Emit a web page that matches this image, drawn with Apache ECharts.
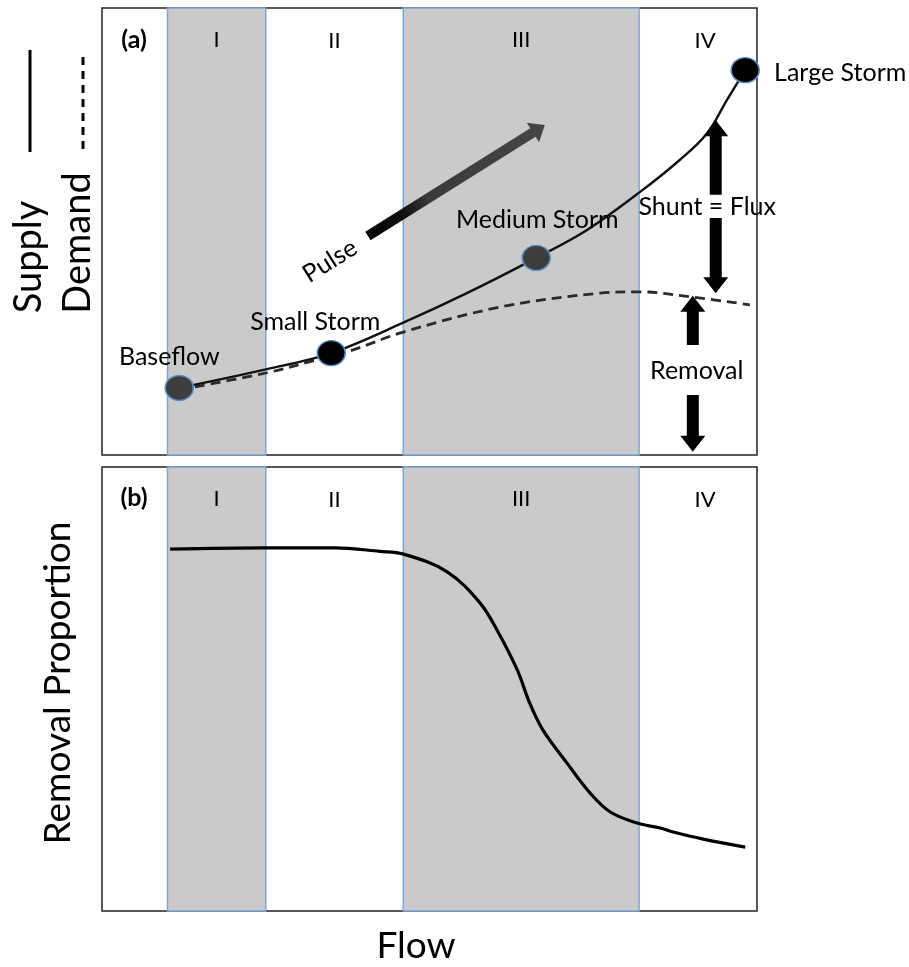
<!DOCTYPE html>
<html><head><meta charset="utf-8">
<script src="https://cdn.jsdelivr.net/npm/echarts@6/dist/echarts.min.js"></script>
<style>html,body{margin:0;padding:0;background:#fff}#c{width:909px;height:967px}</style>
</head><body><div id="c"></div>
<script>
// ---------- data ----------
const stormNames = ['Baseflow', 'Small Storm', 'Medium Storm', 'Large Storm'];
const stormFlow = [11.8, 35.0, 66.3, 98.2];
const stormSupply = [15.0, 22.8, 44.1, 86.1];

const supplyFlow = [11.8, 25.2, 35.0, 46.0, 55.7, 66.3, 74.0, 82.1, 88.2, 92.4, 95.4, 98.2];
const supplyValue = [15.0, 19.2, 22.8, 29.6, 36.2, 44.1, 50.3, 58.8, 66.0, 72.0, 79.4, 86.1];

const demandFlow = [11.8, 25.2, 32.8, 37.9, 46.0, 60.8, 76.0, 82.1, 90.2, 98.9];
const demandValue = [14.6, 18.4, 21.3, 23.3, 27.5, 33.1, 36.2, 36.5, 35.3, 33.6];

const removalFlow = [10.4, 24.9, 35.6, 42.4, 46.0, 52.7, 57.7, 60.3, 63.4, 65.3, 67.3, 71.0, 74.5, 77.6, 81.7, 85.2, 87.2, 91.8, 98.2];
const removalValue = [81.5, 81.8, 81.8, 81.0, 80.4, 76.4, 69.4, 63.3, 54.3, 46.8, 40.8, 33.3, 26.6, 22.3, 19.8, 18.7, 17.8, 16.2, 14.4];

const zoneNames = ['I', 'II', 'III', 'IV'];
const zoneEdges = [10, 25, 46, 82, 100];
const zoneShaded = [true, false, true, false];

const arrowFrom = [[40.6, 49.0], [93.7, 58.2], [93.7, 53.0], [90.2, 24.6], [90.2, 13.4]];
const arrowTo   = [[67.6, 73.8], [93.7, 74.9], [93.7, 36.2], [90.2, 35.6], [90.2, 0.7]];

const noteTexts = ['Pulse', 'Shunt = Flux', 'Removal'];
const noteFlow = [34.8, 92.4, 90.8];
const noteValue = [43.4, 55.5, 18.8];

// ---------- styles ----------
const FONT = 'Lato';
const shade = '#cbcacb';
const bandBorder = '#7ba7d4';
const stormColors = ['#3d3d3d', '#000000', '#3d3d3d', '#000000'];
const stormLabelOffset = [[-10, -31], [-16, -31], [1, -38], [95, 3]];
const zoneLabelOffset = [[0, 0], [0, 0], [0, 0], [7, 0]];
const noteRotate = [32, 0, 0];
const arrowLook = [
  {sw: 10, hw: 23, hl: 14, fill: {type: 'linear', x: 0, y: 1, x2: 1, y2: 0,
    colorStops: [{offset: 0, color: '#000'}, {offset: 0.22, color: '#111'}, {offset: 0.35, color: '#3a3a3a'}, {offset: 1, color: '#454545'}]}},
  {sw: 12, hw: 25, hl: 16, fill: '#000'},
  {sw: 12, hw: 25, hl: 16, fill: '#000'},
  {sw: 12, hw: 25, hl: 16, fill: '#000'},
  {sw: 12, hw: 25, hl: 16, fill: '#000'}
];

const zip = (a, b) => a.map((v, i) => [v, b[i]]);

function zoneArea() {
  return {
    silent: true,
    z: 0,
    data: zoneNames.map((n, i) => [
      {name: n, xAxis: zoneEdges[i],
       label: {offset: zoneLabelOffset[i]},
       itemStyle: zoneShaded[i] ? {color: shade, borderColor: bandBorder, borderWidth: 1.5}
                                : {color: 'rgba(0,0,0,0)', borderWidth: 0}},
      {xAxis: zoneEdges[i + 1]}
    ]),
    label: {show: true, position: 'insideTop', distance: 22, fontSize: 22, color: '#000', fontFamily: FONT}
  };
}

function arrowPoly(p1, p2, sw, hw, hl) {
  const dx = p2[0] - p1[0], dy = p2[1] - p1[1];
  const L = Math.hypot(dx, dy), ux = dx / L, uy = dy / L, nx = -uy, ny = ux;
  const bx = p2[0] - ux * hl, by = p2[1] - uy * hl;
  return [
    [p1[0] + nx * sw / 2, p1[1] + ny * sw / 2],
    [bx + nx * sw / 2, by + ny * sw / 2],
    [bx + nx * hw / 2, by + ny * hw / 2],
    [p2[0], p2[1]],
    [bx - nx * hw / 2, by - ny * hw / 2],
    [bx - nx * sw / 2, by - ny * sw / 2],
    [p1[0] - nx * sw / 2, p1[1] - ny * sw / 2]
  ];
}

const hiddenX = (i) => ({type: 'value', gridIndex: i, min: 0, max: 100, show: false});
const hiddenY = (i) => ({type: 'value', gridIndex: i, min: 0, max: 100, show: false});

const chart = echarts.init(document.getElementById('c'), null, {renderer: 'canvas'});
chart.setOption({
  animation: false,
  backgroundColor: '#fff',
  textStyle: {fontFamily: FONT},
  grid: [
    {left: 102, top: 8, width: 655, height: 447, show: true, borderColor: '#222', borderWidth: 1.5, backgroundColor: '#fff'},
    {left: 102, top: 467, width: 655, height: 444, show: true, borderColor: '#222', borderWidth: 1.5, backgroundColor: '#fff'}
  ],
  xAxis: [hiddenX(0), hiddenX(1)],
  yAxis: [hiddenY(0), hiddenY(1)],
  series: [
    {type: 'line', name: 'zonesA', xAxisIndex: 0, yAxisIndex: 0, data: [], markArea: zoneArea()},
    {type: 'line', name: 'zonesB', xAxisIndex: 1, yAxisIndex: 1, data: [], markArea: zoneArea()},
    {type: 'line', name: 'Demand', xAxisIndex: 0, yAxisIndex: 0, data: zip(demandFlow, demandValue),
     smooth: 0.35, showSymbol: false, z: 3,
     lineStyle: {color: '#2a2a2a', width: 2.8, type: [10, 6]}},
    {type: 'line', name: 'Supply', xAxisIndex: 0, yAxisIndex: 0, data: zip(supplyFlow, supplyValue),
     smooth: 0.35, showSymbol: false, z: 4,
     lineStyle: {color: '#111', width: 2.4}},
    {type: 'scatter', name: 'Storms', xAxisIndex: 0, yAxisIndex: 0, z: 6,
     symbol: 'circle', symbolSize: [28, 25],
     data: stormNames.map((n, i) => ({
       name: n, value: [stormFlow[i], stormSupply[i]],
       itemStyle: {color: stormColors[i], borderColor: '#5b8fc7', borderWidth: 1.5, opacity: 1},
       label: {show: true, position: 'inside', offset: stormLabelOffset[i], formatter: n,
               fontSize: 25, color: '#000', fontFamily: FONT}
     }))},
    {type: 'scatter', name: 'Notes', xAxisIndex: 0, yAxisIndex: 0, z: 7, symbolSize: 0,
     itemStyle: {opacity: 1},
     data: noteTexts.map((t, i) => ({
       name: t, value: [noteFlow[i], noteValue[i]],
       label: {show: true, position: 'inside', formatter: t, rotate: noteRotate[i],
               fontSize: 25, color: '#000', fontFamily: FONT}
     }))},
    {type: 'custom', name: 'Arrows', xAxisIndex: 0, yAxisIndex: 0, z: 5, clip: false,
     data: arrowFrom.map((f, i) => [f[0], f[1], arrowTo[i][0], arrowTo[i][1]]),
     encode: {x: [0, 2], y: [1, 3]},
     renderItem: function (params, api) {
       const p1 = api.coord([api.value(0), api.value(1)]);
       const p2 = api.coord([api.value(2), api.value(3)]);
       const s = arrowLook[params.dataIndex];
       return {type: 'polygon', shape: {points: arrowPoly(p1, p2, s.sw, s.hw, s.hl)}, style: {fill: s.fill}};
     }},
    {type: 'line', name: 'Removal Proportion', xAxisIndex: 1, yAxisIndex: 1, data: zip(removalFlow, removalValue),
     smooth: 0.35, showSymbol: false, z: 4,
     lineStyle: {color: '#000', width: 3.2}}
  ],
  graphic: [
    {type: 'text', z: 10, x: 134, y: 40, style: {text: '(a)', fontSize: 25, fontWeight: 'bold', fill: '#000', fontFamily: FONT, align: 'center', verticalAlign: 'middle'}},
    {type: 'text', z: 10, x: 134, y: 498, style: {text: '(b)', fontSize: 25, fontWeight: 'bold', fill: '#000', fontFamily: FONT, align: 'center', verticalAlign: 'middle'}},
    {type: 'line', z: 10, shape: {x1: 30, y1: 50, x2: 30, y2: 152}, style: {stroke: '#000', lineWidth: 3}},
    {type: 'line', z: 10, shape: {x1: 83, y1: 57, x2: 83, y2: 153}, style: {stroke: '#000', lineWidth: 3, lineDash: [8, 6]}},
    {type: 'text', z: 10, x: 29, y: 257, rotation: Math.PI / 2,
     style: {text: 'Supply', fontSize: 38, fill: '#000', fontFamily: FONT, align: 'center', verticalAlign: 'middle'}},
    {type: 'text', z: 10, x: 78, y: 243, rotation: Math.PI / 2,
     style: {text: 'Demand', fontSize: 38, fill: '#000', fontFamily: FONT, align: 'center', verticalAlign: 'middle'}},
    {type: 'text', z: 10, x: 58, y: 683, rotation: Math.PI / 2,
     style: {text: 'Removal Proportion', fontSize: 37, fill: '#000', fontFamily: FONT, align: 'center', verticalAlign: 'middle'}},
    {type: 'text', z: 10, x: 416, y: 946,
     style: {text: 'Flow', fontSize: 37, fill: '#000', fontFamily: FONT, align: 'center', verticalAlign: 'middle'}}
  ]
});
</script>
</body></html>
